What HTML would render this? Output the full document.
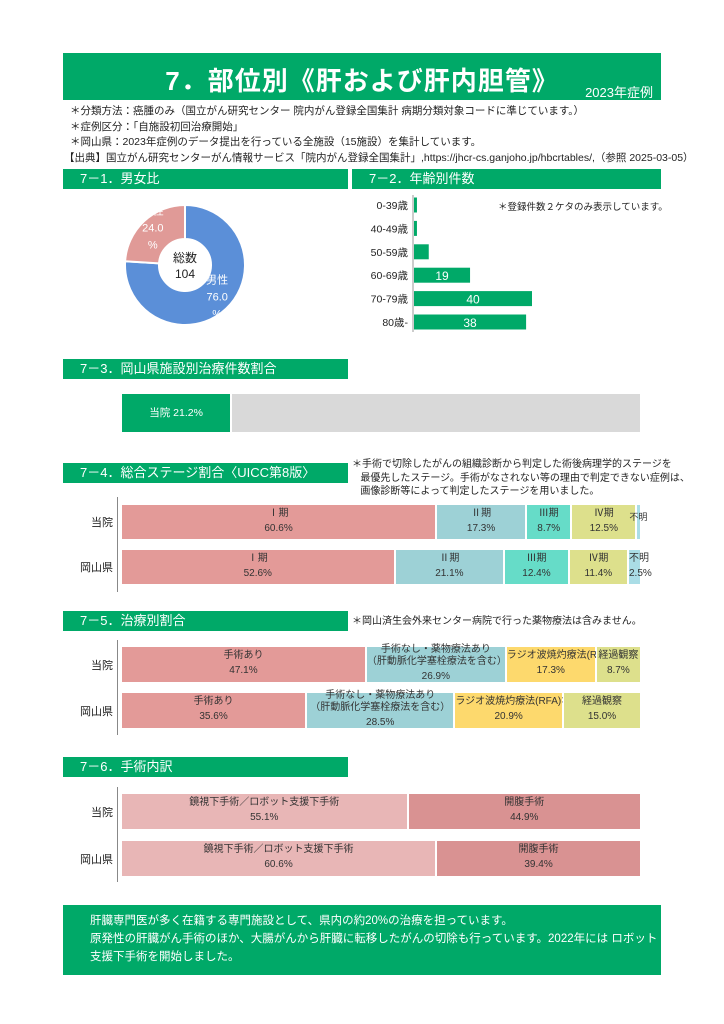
<!DOCTYPE html>
<html><head><meta charset="utf-8">
<style>
body{margin:0;width:724px;height:1024px;background:#fff;position:relative;font-family:"Liberation Sans","Noto Sans CJK JP",sans-serif;color:#222;overflow:hidden}
.abs{position:absolute}
.hdr{position:absolute;background:#00a968;color:#fff;font-size:13px;line-height:19px;padding-left:17px;box-sizing:border-box;height:20px}
.note{position:absolute;font-size:10px;line-height:15px;color:#222}
.seg{position:absolute;box-sizing:border-box;border:1px solid #fff;text-align:center;font-size:10px;color:#333;display:flex;flex-direction:column;justify-content:center;line-height:17px;overflow:visible;white-space:nowrap}
.rl{position:absolute;font-size:11px;width:50px;text-align:right;left:63px}
.ax{position:absolute;left:117px;width:1px;background:#888}
</style></head><body>
<div class="abs" style="left:63px;top:53px;width:598px;height:47px;background:#00a968;color:#fff">
<div style="position:absolute;left:0;width:598px;top:8px;text-align:center;font-size:26px;font-weight:bold;letter-spacing:1px">7．部位別《肝および肝内胆管》</div>
<div style="position:absolute;right:8px;top:29px;font-size:13px">2023年症例</div>
</div>
<div class="note" style="left:70px;top:104px;font-size:10.5px;line-height:15.5px">＊分類方法：癌腫のみ（国立がん研究センター 院内がん登録全国集計 病期分類対象コードに準じています。）<br>＊症例区分：「自施設初回治療開始」<br>＊岡山県：2023年症例のデータ提出を行っている全施設（15施設）を集計しています。<br><span style="margin-left:-6px">【出典】国立がん研究センターがん情報サービス「院内がん登録全国集計」,https://jhcr-cs.ganjoho.jp/hbcrtables/,（参照 2025-03-05）</span></div>

<div class="hdr" style="left:63px;top:169px;width:285px">7－1．男女比</div>
<div class="hdr" style="left:352px;top:169px;width:309px">7－2．年齢別件数</div>

<svg class="abs" style="left:0;top:0" width="724" height="1024" id="svg">
</svg>
<div class="note" style="left:498px;top:200px;font-size:9.5px">＊登録件数２ケタのみ表示しています。</div>

<div class="hdr" style="left:63px;top:359px;width:285px">7－3．岡山県施設別治療件数割合</div>
<div class="hdr" style="left:63px;top:463px;width:285px">7－4．総合ステージ割合〈UICC第8版〉</div>
<div class="note" style="left:352px;top:458px;font-size:10px;line-height:13.5px">＊手術で切除したがんの組織診断から判定した術後病理学的ステージを<br>&nbsp;&nbsp;&nbsp;最優先したステージ。手術がなされない等の理由で判定できない症例は、<br>&nbsp;&nbsp;&nbsp;画像診断等によって判定したステージを用いました。</div>
<div class="hdr" style="left:63px;top:611px;width:285px">7－5．治療別割合</div>
<div class="note" style="left:352px;top:614px">＊岡山済生会外来センター病院で行った薬物療法は含みません。</div>
<div class="hdr" style="left:63px;top:757px;width:285px">7－6．手術内訳</div>

<div id="bars"></div>

<div class="abs" style="left:63px;top:905px;width:598px;height:70px;background:#00a968;color:#fff;font-size:11.5px;line-height:18px;padding:7px 0 0 27px;box-sizing:border-box">肝臓専門医が多く在籍する専門施設として、県内の約20%の治療を担っています。<br>原発性の肝臓がん手術のほか、大腸がんから肝臓に転移したがんの切除も行っています。2022年には ロボット支援下手術を開始しました。</div>

<script>
// ---- data ----
const sexLabels=["男性","女性"];
const sexValues=[76.0,24.0];
const totalCases=104;
const ageCats=["0-39歳","40-49歳","50-59歳","60-69歳","70-79歳","80歳-"];
const ageValues=[1,1,5,19,40,38];
const shareLabel="当院";
const shareValue=21.2;
const rowLabels=["当院","岡山県"];
const stageCats=["Ⅰ期","Ⅱ期","Ⅲ期","Ⅳ期","不明"];
const stageHosp=[60.6,17.3,8.7,12.5,0.9];
const stagePref=[52.6,21.1,12.4,11.4,2.5];
const treatCats=["手術あり","手術なし・薬物療法あり\n（肝動脈化学塞栓療法を含む）","ラジオ波焼灼療法(RFA)など","経過観察"];
const treatHosp=[47.1,26.9,17.3,8.7];
const treatPref=[35.6,28.5,20.9,15.0];
const surgCats=["鏡視下手術／ロボット支援下手術","開腹手術"];
const surgHosp=[55.1,44.9];
const surgPref=[60.6,39.4];

const NS="http://www.w3.org/2000/svg";
const svg=document.getElementById('svg');
function sv(tag,attrs,parent){const e=document.createElementNS(NS,tag);for(const k in attrs)e.setAttribute(k,attrs[k]);(parent||svg).appendChild(e);return e;}

// ---- donut ----
const cx=185,cy=265,R=60,r=26;
const sexColors=["#5b8fd8","#e09a97"];
let ang=0;const tot=sexValues.reduce((a,b)=>a+b,0);
sexValues.forEach((v,i)=>{
 const a0=ang,a1=ang+v/tot*2*Math.PI;ang=a1;
 const p=(a,rad)=>[cx+rad*Math.sin(a),cy-rad*Math.cos(a)];
 const [x0,y0]=p(a0,R),[x1,y1]=p(a1,R),[x2,y2]=p(a1,r),[x3,y3]=p(a0,r);
 const lg=(a1-a0)>Math.PI?1:0;
 const path=sv('path',{d:`M${x0},${y0}A${R},${R} 0 ${lg} 1 ${x1},${y1}L${x2},${y2}A${r},${r} 0 ${lg} 0 ${x3},${y3}Z`,fill:sexColors[i],stroke:'#fff','stroke-width':2});
 
 
 const mid=(a0+a1)/2;const [lx,ly]=p(mid,(R+r)/2+4);
 const t=sv('text',{x:lx,y:ly-16,'text-anchor':'middle',fill:'#fff','font-size':11});
 
 
 [sexLabels[i],v.toFixed(1),"%"].forEach((s,j)=>{const ts=sv('tspan',{x:lx,dy:j?17:0},t);ts.textContent=s;});
});
const ct=sv('text',{x:cx,y:cy-3,'text-anchor':'middle','font-size':12,fill:'#222'});


[ "総数",String(totalCases)].forEach((s,j)=>{const ts=sv('tspan',{x:cx,dy:j?16:0},ct);ts.textContent=s;});

// ---- age bars ----
const ax0=414,aScale=118/40,aTop=205,aStep=23.4,aH=15;
sv('line',{x1:ax0-1,x2:ax0-1,y1:aTop-10,y2:aTop+5*aStep+10,stroke:'#999','stroke-width':1});
ageCats.forEach((c,i)=>{
 const y=aTop+i*aStep;
 const lab=sv('text',{x:ax0-6,y:y+4,'text-anchor':'end','font-size':10.5,fill:'#222'});lab.textContent=c;
 
 
 const b=sv('rect',{x:ax0,y:y-aH/2,width:ageValues[i]*aScale,height:aH,fill:'#00a968'});
 
 
 if(ageValues[i]>=10){const t=sv('text',{x:ax0+ageValues[i]*aScale/2,y:y+5,'text-anchor':'middle','font-size':12,fill:'#fff'});t.textContent=ageValues[i];
 
 }
});

// ---- stacked bars ----
const host=document.getElementById('bars');
const BX=121,BW=520;
function stack(vals,cats,colors,top,h,name,lines){
 let x=0;
 vals.forEach((v,i)=>{
  const w=v/100*BW;
  const d=document.createElement('div');
  d.className='seg';
  
  
  d.style.left=(BX+x)+'px';d.style.top=top+'px';d.style.width=w+'px';d.style.height=h+'px';d.style.background=colors[i];
  const lbl=cats[i].replace('\n','<br>');
  d.innerHTML=w<12?'<span style="position:absolute;top:4px;left:-8px;font-size:9px">'+lbl+'</span>':'<span style="line-height:12px">'+lbl+'</span><span>'+v.toFixed(1)+'%</span>';
  host.appendChild(d);x+=w;
 });
}
function rowLabel(t,top,h){const d=document.createElement('div');d.className='rl';d.style.top=(top+h/2-8)+'px';d.textContent=t;
 
 host.appendChild(d);}
function axis(top,h){const d=document.createElement('div');d.className='ax';d.style.top=top+'px';d.style.height=h+'px';
 
 host.appendChild(d);}

// 7-3
(function(){const d=document.createElement('div');d.className='seg';
 
 
 d.style.cssText=`left:${BX}px;top:393px;width:${shareValue/100*BW}px;height:40px;background:#00a968;color:#fff;font-size:10.5px`;
 d.textContent=shareLabel+'  '+shareValue.toFixed(1)+'%';host.appendChild(d);
 const g=document.createElement('div');g.className='seg';
 
 
 g.style.cssText=`left:${BX+shareValue/100*BW}px;top:393px;width:${(100-shareValue)/100*BW}px;height:40px;background:#d9d9d9`;host.appendChild(g);})();

const stageColors=["#e39a98","#9dd1d6","#66dcc8","#dde08c","#aadde6"];
axis(497,95);
rowLabel(rowLabels[0],504,36);rowLabel(rowLabels[1],549,36);
stack(stageHosp,stageCats,stageColors,504,36,'stage-hospital');
stack(stagePref,stageCats,stageColors,549,36,'stage-prefecture');

const treatColors=["#e39a98","#9dd1d6","#fdd96d","#dde08c"];
axis(640,95);
rowLabel(rowLabels[0],646,37);rowLabel(rowLabels[1],692,37);
stack(treatHosp,treatCats,treatColors,646,37,'treatment-hospital');
stack(treatPref,treatCats,treatColors,692,37,'treatment-prefecture');

const surgColors=["#e8b6b6","#d99292"];
axis(787,95);
rowLabel(rowLabels[0],793,37);rowLabel(rowLabels[1],840,37);
stack(surgHosp,surgCats,surgColors,793,37,'surgery-hospital');
stack(surgPref,surgCats,surgColors,840,37,'surgery-prefecture');
</script>
</body></html>
